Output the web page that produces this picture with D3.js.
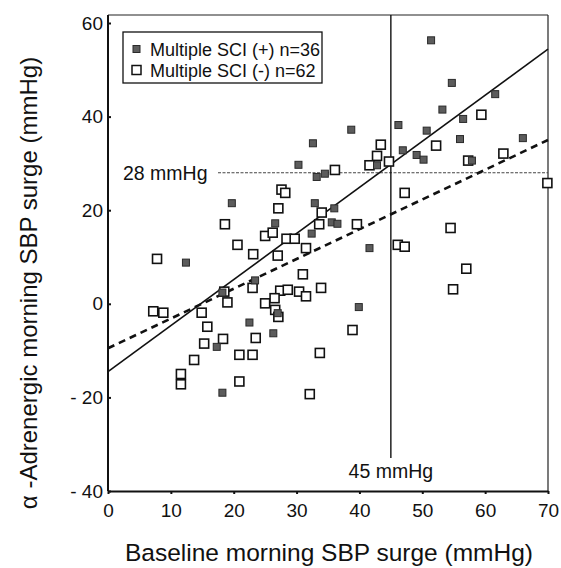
<!DOCTYPE html>
<html>
<head>
<meta charset="utf-8">
<script src="https://cdn.jsdelivr.net/npm/d3@7"></script>
<style>
  body { margin: 0; background: #fff; }
</style>
</head>
<body>
<div id="chart"></div>
<script>
// Multiple SCI (+), n=36: [baseline surge, alpha-adrenergic surge]
const sciPos = [
  [51.4, 56.3], [54.7, 47.2], [61.6, 44.8], [53.2, 41.5], [56.5, 39.5], [38.7, 37.2],
  [46.2, 38.2], [50.7, 37.0], [32.6, 34.3], [66.0, 35.4], [56.0, 35.2], [46.9, 32.8],
  [49.1, 31.8], [50.2, 30.8], [57.9, 30.6], [42.8, 29.6], [30.3, 29.7], [33.2, 27.1],
  [34.5, 27.8], [19.7, 21.5], [32.9, 21.5], [36.0, 20.4], [26.6, 17.2], [35.6, 17.4],
  [36.5, 17.1], [32.4, 15.0], [41.6, 11.9], [12.4, 8.8], [23.4, 5.0], [18.2, 2.4],
  [39.9, -0.7], [27.0, -2.0], [22.5, -4.0], [26.3, -6.3], [17.3, -9.2], [18.2, -19.0]
];

// Multiple SCI (-), n=62
const sciNeg = [
  [36.1, 28.6], [59.4, 40.4], [43.4, 34.0], [52.2, 33.8], [42.8, 31.6], [62.9, 32.1],
  [57.3, 30.6], [44.7, 30.4], [41.6, 29.6], [27.6, 24.4], [28.2, 23.7], [27.1, 20.4],
  [34.0, 19.5], [18.6, 17.0], [33.6, 17.0], [25.0, 14.5], [26.2, 15.2], [28.4, 13.9],
  [29.7, 13.9], [20.6, 12.6], [23.1, 10.6], [27.0, 10.3], [31.5, 11.9], [7.8, 9.6],
  [31.0, 6.3], [23.0, 3.4], [33.9, 3.4], [18.5, 2.6], [27.4, 2.8], [28.6, 3.0],
  [30.4, 2.6], [31.5, 1.6], [19.0, 0.3], [25.0, 0.1], [26.5, 1.2], [26.6, -1.3],
  [27.1, -2.8], [7.2, -1.6], [8.8, -1.9], [14.9, -1.9], [15.8, -4.9], [23.5, -7.3],
  [15.3, -8.5], [18.3, -7.5], [13.7, -12.0], [20.9, -10.9], [23.0, -10.9], [33.7, -10.5],
  [11.6, -15.0], [11.6, -17.2], [20.9, -16.6], [32.1, -19.3], [69.9, 25.8], [47.2, 23.7],
  [39.6, 17.0], [54.5, 16.2], [46.1, 12.6], [47.2, 12.2], [57.0, 7.5], [54.9, 3.1],
  [38.9, -5.6]
];

// regression lines: [value at x=0, value at x=70]
const fitPos = [-14.5, 54.4];
const fitNeg = [-9.5, 35.0];

const xTicks = [0, 10, 20, 30, 40, 50, 60, 70];
const yTicks = [-40, -20, 0, 20, 40, 60];
const cutX = 45;
const cutY = 28;

const legendLabels = ["Multiple SCI (+) n=36", "Multiple SCI (-)  n=62"];

const FONT = "'Liberation Sans', Arial, Helvetica, sans-serif";
const W = 561, H = 568;
const svg = d3.select("#chart").append("svg")
  .attr("width", W).attr("height", H)
  .attr("font-family", FONT);

const x = d3.scaleLinear().domain([0, 70]).range([108, 548]);
const y = d3.scaleLinear().domain([-40, 60]).range([491, 23]);
const yTop = 15;

// frame
svg.append("line").attr("x1", x(0)).attr("x2", x(70)).attr("y1", yTop).attr("y2", yTop)
  .attr("stroke", "#222").attr("stroke-width", 1.2);
svg.append("line").attr("x1", x(70)).attr("x2", x(70)).attr("y1", yTop).attr("y2", y(-40))
  .attr("stroke", "#222").attr("stroke-width", 1.2);

// reference lines
svg.append("line").attr("x1", 218).attr("x2", x(70)).attr("y1", y(cutY)).attr("y2", y(cutY))
  .attr("stroke", "#444").attr("stroke-width", 1).attr("stroke-dasharray", "3,1.5");
svg.append("line").attr("x1", x(cutX)).attr("x2", x(cutX)).attr("y1", yTop).attr("y2", 458)
  .attr("stroke", "#111").attr("stroke-width", 1.4);

svg.append("text").attr("x", 123).attr("y", y(cutY) + 7).attr("font-size", 19.5)
  .attr("font-family", FONT).attr("fill", "#111").text(cutY + " mmHg");
svg.append("text").attr("x", x(cutX)).attr("y", 478).attr("font-size", 19.5)
  .attr("font-family", FONT).attr("fill", "#111")
  .attr("text-anchor", "middle").text(cutX + " mmHg");

// regression lines
svg.append("line").attr("x1", x(0)).attr("y1", y(fitPos[0])).attr("x2", x(70)).attr("y2", y(fitPos[1]))
  .attr("stroke", "#111").attr("stroke-width", 1.6);
svg.append("line").attr("x1", x(0)).attr("y1", y(fitNeg[0])).attr("x2", x(70)).attr("y2", y(fitNeg[1]))
  .attr("stroke", "#111").attr("stroke-width", 2.6).attr("stroke-dasharray", "7,5");

// points
const openSize = 9, fillSize = 7;
svg.append("g").selectAll("rect")
  .data(sciNeg)
  .join("rect")
  .attr("x", d => x(d[0]) - openSize / 2)
  .attr("y", d => y(d[1]) - openSize / 2)
  .attr("width", openSize)
  .attr("height", openSize)
  .attr("fill", "#fff")
  .attr("stroke", "#111")
  .attr("stroke-width", 1.6);

svg.append("g").selectAll("rect")
  .data(sciPos)
  .join("rect")
  .attr("x", d => x(d[0]) - fillSize / 2)
  .attr("y", d => y(d[1]) - fillSize / 2)
  .attr("width", fillSize)
  .attr("height", fillSize)
  .attr("fill", "#5c5c5c")
  .attr("stroke", "#2a2a2a")
  .attr("stroke-width", 1);

// axes
const xAxis = svg.append("g")
  .attr("transform", `translate(0,${y(-40)})`)
  .call(d3.axisBottom(x).tickValues(xTicks).tickSize(3).tickSizeOuter(0).tickPadding(10));
const yAxis = svg.append("g")
  .attr("transform", `translate(${x(0)},0)`)
  .call(d3.axisLeft(y).tickValues(yTicks).tickSize(-3).tickSizeOuter(0).tickPadding(5)
    .tickFormat(d => d < 0 ? "- " + Math.abs(d) : d));
yAxis.select(".domain").attr("d", `M0,${yTop}V${y(-40)}`);
[xAxis, yAxis].forEach(a => {
  a.attr("font-family", FONT);
  a.select(".domain").attr("stroke", "#111").attr("stroke-width", 2);
  a.selectAll(".tick line").attr("stroke", "#111").attr("stroke-width", 2);
  a.selectAll(".tick text").attr("font-size", 19).attr("fill", "#111");
});

// axis titles
svg.append("text").attr("x", 329).attr("y", 561).attr("text-anchor", "middle")
  .attr("font-size", 24.5).attr("fill", "#111").text("Baseline morning SBP surge (mmHg)");
svg.append("text").attr("transform", "translate(37,283) rotate(-90)").attr("text-anchor", "middle")
  .attr("font-size", 24).attr("fill", "#111").text("α -Adrenergic morning SBP surge (mmHg)");

// legend
const lg = svg.append("g");
lg.append("rect").attr("x", 123).attr("y", 32).attr("width", 199).attr("height", 51)
  .attr("fill", "#fff").attr("stroke", "#111").attr("stroke-width", 1.3);
legendLabels.forEach((lab, i) => {
  const cy = 49 + i * 21;
  if (i === 0) {
    lg.append("rect").attr("x", 133).attr("y", cy - 3.5).attr("width", 7).attr("height", 7)
      .attr("fill", "#5c5c5c").attr("stroke", "#2a2a2a");
  } else {
    lg.append("rect").attr("x", 132).attr("y", cy - 4.5).attr("width", 9).attr("height", 9)
      .attr("fill", "#fff").attr("stroke", "#111").attr("stroke-width", 1.5);
  }
  lg.append("text").attr("x", 150).attr("y", cy + 6.5).attr("font-size", 18).attr("fill", "#111")
    .text(lab);
});
</script>
</body>
</html>
